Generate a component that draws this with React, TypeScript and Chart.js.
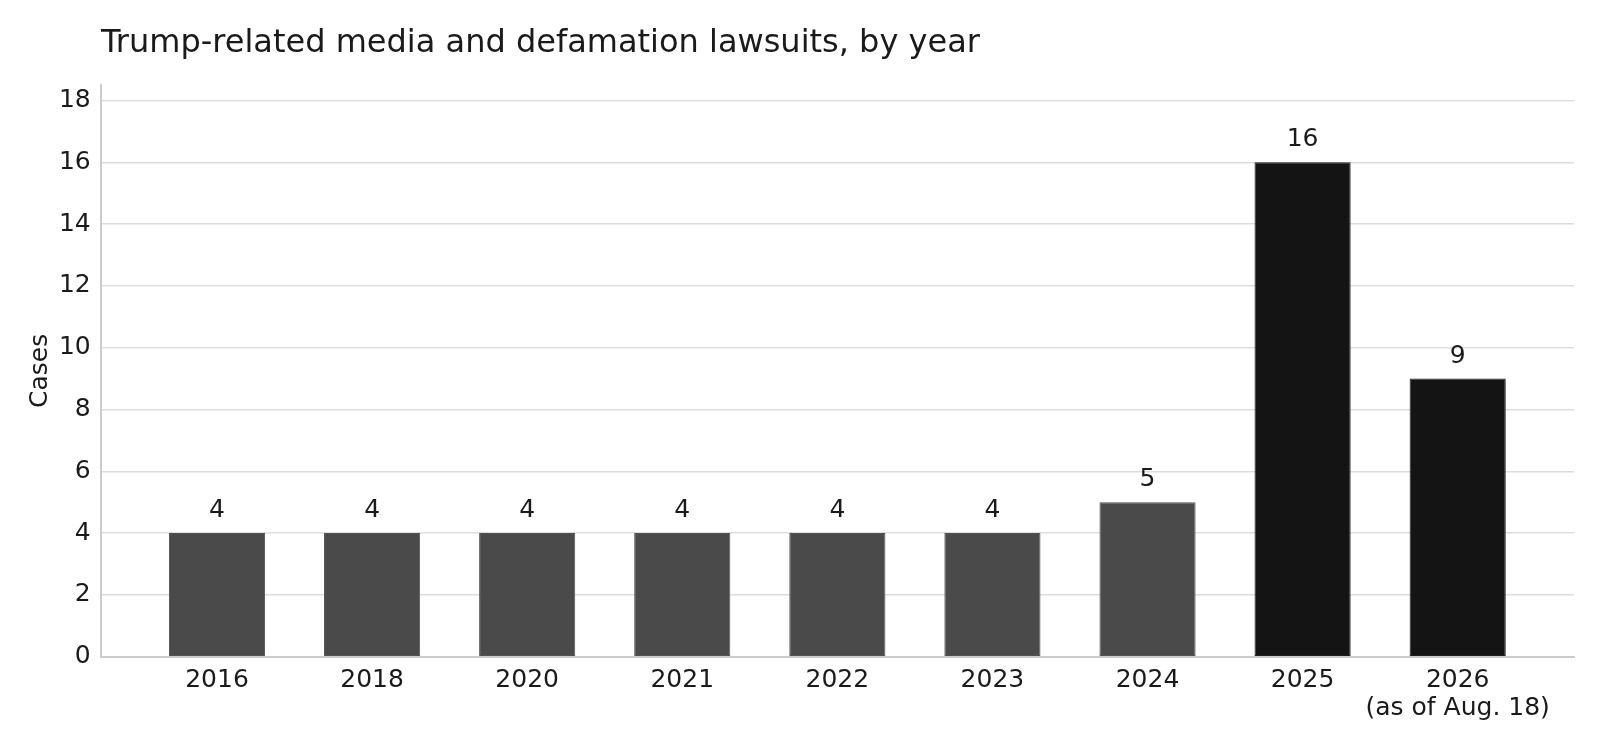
import React, { useEffect, useRef } from "react";
import { Chart, registerables } from "chart.js";

Chart.register(...registerables);

const titleText = "Trump-related media and defamation lawsuits, by year";
const yAxisTitle = "Cases";
const categories = ["2016", "2018", "2020", "2021", "2022", "2023", "2024", "2025", "2026"];
const categoryNotes = ["", "", "", "", "", "", "", "", "(as of Aug. 18)"];
const caseCounts = [4, 4, 4, 4, 4, 4, 5, 16, 9];
const highlighted = [false, false, false, false, false, false, false, true, true];
const yTicks = [0, 2, 4, 6, 8, 10, 12, 14, 16, 18];

const FONT = "'DejaVu Sans', sans-serif";
const TEXT = "#1a1a1a";

export default function App() {
  const ref = useRef<HTMLCanvasElement | null>(null);

  useEffect(() => {
    if (!ref.current) return;

    const decorations = {
      id: "decorations",
      afterDraw(chart: any) {
        const ctx = chart.ctx;
        const area = chart.chartArea;
        ctx.save();
        // title
        ctx.fillStyle = TEXT;
        ctx.font = `32px ${FONT}`;
        ctx.textAlign = "left";
        ctx.textBaseline = "alphabetic";
        ctx.fillText(titleText, 101, 52);
        // y axis title
        ctx.font = `25px ${FONT}`;
        ctx.translate(47, (area.top + area.bottom) / 2);
        ctx.rotate(-Math.PI / 2);
        ctx.textAlign = "center";
        ctx.textBaseline = "alphabetic";
        ctx.fillText(yAxisTitle, 0, 0);
        ctx.restore();
      },
      afterDatasetsDraw(chart: any) {
        const ctx = chart.ctx;
        const meta = chart.getDatasetMeta(0);
        ctx.save();
        ctx.fillStyle = TEXT;
        ctx.font = `25px ${FONT}`;
        ctx.textAlign = "center";
        ctx.textBaseline = "alphabetic";
        meta.data.forEach((bar: any, i: number) => {
          ctx.fillText(String(caseCounts[i]), bar.x, bar.y - 16);
        });
        ctx.restore();
      },
    };

    const chart = new Chart(ref.current, {
      type: "bar",
      data: {
        datasets: [
          {
            data: caseCounts.map((v, i) => ({ x: i, y: v })),
            backgroundColor: highlighted.map((h) => (h ? "#141414" : "#4a4a4a")),
            borderColor: highlighted.map((h) => (h ? "#1e1e1e" : "#525252")),
            borderWidth: 1,
            borderSkipped: false,
            barPercentage: 0.62,
            categoryPercentage: 1,
          },
        ],
      },
      options: {
        animation: false,
        responsive: false,
        maintainAspectRatio: false,
        events: [],
        layout: { padding: { left: 0, right: 26, top: 85, bottom: 0 } },
        plugins: {
          legend: { display: false },
          title: { display: false },
          tooltip: { enabled: false },
        },
        scales: {
          x: {
            type: "linear",
            min: -0.75,
            max: 8.75,
            offset: false,
            grid: { display: false, drawTicks: false, offset: false },
            border: { display: true, color: "#cccccc", width: 2 },
            afterBuildTicks(scale: any) {
              scale.ticks = categories.map((_, i) => ({ value: i }));
            },
            afterFit(scale: any) {
              scale.height = 90.3;
            },
            ticks: {
              autoSkip: false,
              maxRotation: 0,
              minRotation: 0,
              padding: 9,
              color: TEXT,
              font: { family: FONT, size: 25, lineHeight: 1.15 },
              callback: (v: any) => {
                const i = Math.round(Number(v));
                if (categoryNotes[i]) return [categories[i], categoryNotes[i]];
                return categories[i] ?? "";
              },
            },
          },
          y: {
            type: "linear",
            min: 0,
            max: 18.5,
            afterBuildTicks(scale: any) {
              scale.ticks = yTicks.map((v) => ({ value: v }));
            },
            afterFit(scale: any) {
              scale.width = 100.7;
            },
            grid: { color: "#dddddd", lineWidth: 1.5, drawTicks: false },
            border: { display: true, color: "#cccccc", width: 2 },
            ticks: {
              padding: 10,
              color: TEXT,
              font: { family: FONT, size: 25 },
            },
          },
        },
      },
      plugins: [decorations],
    } as any);

    return () => chart.destroy();
  }, []);

  return (
    <div style={{ position: "fixed", left: 0, top: 0, width: 1600, height: 747, background: "#ffffff" }}>
      <canvas ref={ref} width={1600} height={747} style={{ width: 1600, height: 747, display: "block" }} />
    </div>
  );
}
